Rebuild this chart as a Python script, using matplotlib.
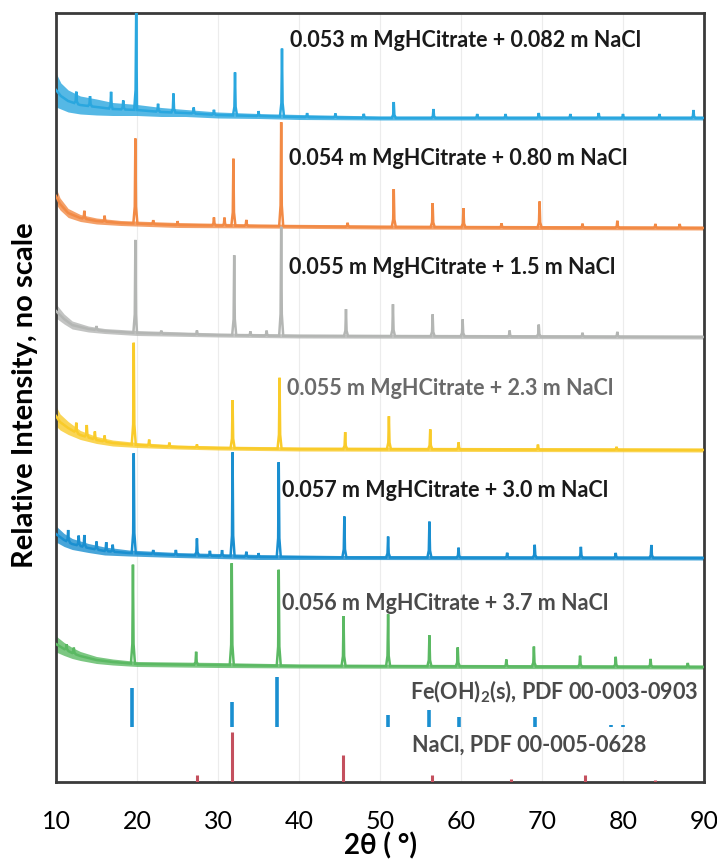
import numpy as np
import matplotlib
matplotlib.use("Agg")
import matplotlib.pyplot as plt

plt.rcParams['font.family'] = ['Lato', 'DejaVu Sans']
plt.rcParams['mathtext.fontset'] = 'custom'
plt.rcParams['mathtext.rm'] = 'Lato'
plt.rcParams['mathtext.bf'] = 'Lato:bold'

# ---------------- data (arbitrary intensity units, stacked) ----------------
labels = [
    "0.053 m MgHCitrate + 0.082 m NaCl",
    "0.054 m MgHCitrate + 0.80 m NaCl",
    "0.055 m MgHCitrate + 1.5 m NaCl",
    "0.055 m MgHCitrate + 2.3 m NaCl",
    "0.057 m MgHCitrate + 3.0 m NaCl",
    "0.056 m MgHCitrate + 3.7 m NaCl",
]
offsets = [664, 554, 445, 332, 224, 115]

# background level (above each baseline) and noise-band thickness read at a few angles
bg1_x = [10, 10.6, 11.5, 13, 15, 17, 20, 23, 26, 30, 35, 40, 50, 90]
bg1_y = [28, 22, 17, 13, 11, 9, 8, 6, 5, 3, 2, 1, 0, 0]
bg1_w = [34, 26, 22, 18, 16, 13, 11, 9, 7, 6, 5, 5, 4, 4]
bg2_x = [10, 10.5, 11.5, 13, 15, 18, 25, 35, 50, 90]
bg2_y = [32, 24, 15, 10, 7, 5, 3, 2, 1, 0]
bg2_w = [16, 12, 9, 7, 6, 5, 5, 4, 4, 4]
bg3_x = [10, 11, 12, 14, 16, 20, 30, 40, 90]
bg3_y = [26, 18, 12, 8, 6, 4, 2, 1, 0]
bg3_w = [14, 10, 8, 6, 5, 5, 4, 4, 4]
bg4_x = [10, 10.5, 11.5, 13, 15, 17, 20, 25, 30, 40, 90]
bg4_y = [34, 28, 22, 15, 10, 7, 5, 3, 2, 1, 0]
bg4_w = [20, 16, 13, 9, 7, 6, 5, 4, 4, 4, 4]
bg5_x = [10, 11, 12, 14, 16, 19, 25, 35, 45, 90]
bg5_y = [24, 18, 14, 10, 7, 5, 3, 1, 0.5, 0]
bg5_w = [16, 13, 11, 9, 8, 6, 5, 5, 4, 4]
bg6_x = [10, 11, 12, 13, 15, 17, 20, 30, 40, 90]
bg6_y = [23, 18, 14, 11, 7, 5, 3, 2, 1, 0]
bg6_w = [16, 13, 11, 9, 7, 6, 5, 5, 4, 4]

# peaks: 2theta positions and heights above background
pk1_x = [12.5, 14.2, 16.8, 18.3, 19.9, 22.6, 24.5, 27.0, 29.5, 32.1, 35.0, 37.9, 41.0,
         44.5, 48.0, 51.7, 56.6, 62.0, 65.5, 69.6, 73.5, 77.0, 80.0, 84.5, 88.7]
pk1_h = [12, 10, 17, 9, 100, 8, 19, 6, 5, 43, 5, 68, 4,
         4, 4, 16, 9, 4, 4, 5, 4, 5, 4, 4, 8]
pk2_x = [13.5, 16.0, 19.8, 22.0, 25.0, 29.5, 30.8, 31.9, 33.5, 37.8, 46.0, 51.7,
         56.5, 60.3, 65.0, 69.7, 75.0, 79.3, 84.0, 87.0]
pk2_h = [8, 6, 85, 4, 4, 8, 8, 67, 6, 104, 4, 38,
         24, 19, 4, 26, 4, 7, 4, 4]
pk3_x = [15.0, 19.8, 23.0, 27.4, 32.0, 34.0, 36.0, 37.8, 45.8, 51.6, 56.5, 60.2,
         66.0, 69.6, 75.0, 79.3]
pk3_h = [4, 93, 3, 4, 80, 4, 5, 109, 27, 32, 22, 17,
         6, 12, 4, 5]
pk4_x = [12.5, 13.8, 14.8, 16.0, 19.6, 21.5, 24.0, 27.4, 31.8, 37.6, 45.7, 51.1,
         56.2, 59.7, 69.5, 79.2]
pk4_h = [10, 12, 8, 6, 102, 6, 4, 3, 48, 71, 17, 33,
         20, 7, 5, 3]
pk5_x = [11.5, 12.8, 13.5, 15.0, 16.2, 17.0, 19.6, 22.0, 24.8, 27.4, 29.0, 30.5,
         31.8, 33.5, 35.0, 37.5, 45.6, 51.0, 56.1, 59.7, 65.7, 69.1, 74.8, 79.1, 83.5]
pk5_h = [12, 10, 12, 8, 9, 7, 100, 4, 5, 17, 5, 6,
         104, 5, 4, 95, 41, 21, 36, 10, 5, 13, 11, 5, 13]
pk6_x = [11.3, 12.2, 19.5, 27.3, 31.7, 37.5, 45.5, 51.0, 56.1, 59.6, 65.6, 69.0,
         74.7, 79.1, 83.4, 88.0]
pk6_h = [6, 6, 99, 13, 102, 96, 50, 52, 31, 19, 7, 20,
         11, 10, 8, 4]

bg_x = [bg1_x, bg2_x, bg3_x, bg4_x, bg5_x, bg6_x]
bg_y = [bg1_y, bg2_y, bg3_y, bg4_y, bg5_y, bg6_y]
bg_w = [bg1_w, bg2_w, bg3_w, bg4_w, bg5_w, bg6_w]
pk_x = [pk1_x, pk2_x, pk3_x, pk4_x, pk5_x, pk6_x]
pk_h = [pk1_h, pk2_h, pk3_h, pk4_h, pk5_h, pk6_h]

# reference stick patterns
feoh2_offset = 55
feoh2_x = [19.4, 31.7, 37.3, 51.0, 56.0, 59.7, 69.1, 78.5, 80.0]
feoh2_h = [39, 25, 50, 12, 17, 10, 10, 2, 2]
nacl_x = [27.4, 31.7, 45.4, 56.4, 66.2, 75.3, 84.0]
nacl_h = [7, 50, 27, 7, 3, 7, 2]

ref_labels = [r"Fe(OH)$_\mathbf{2}$(s), PDF 00-003-0903", "NaCl, PDF 00-005-0628"]

xticks = [10, 20, 30, 40, 50, 60, 70, 80, 90]

# ---------------- styling ----------------
colors = ["#2AA7DF", "#F28A45", "#B4B6B4", "#F9CB2A", "#1A8FD0", "#5BB963"]
label_colors = ["#1a1a1a", "#1a1a1a", "#1a1a1a", "#6a6a6a", "#1a1a1a", "#4a4a4a"]
label_pos = [(38.9, 742), (38.8, 624), (38.8, 515), (38.5, 394), (37.9, 292), (37.9, 179)]
ref_label_pos = [(53.7, 90), (54.0, 37)]
feoh2_color = "#1A8FD0"
nacl_color = "#C4505E"


def build_trace(bx, by, px, ph, hw=0.25):
    xs = list(bx)
    ys = list(by)
    for p, h in zip(px, ph):
        for dx, f in [(-hw, 0.0), (-hw * 0.3, 0.2), (0.0, 1.0), (hw * 0.3, 0.2), (hw, 0.0)]:
            xs.append(p + dx)
            ys.append(np.interp(p + dx, bx, by) + f * h)
    order = np.argsort(xs, kind="stable")
    return np.asarray(xs)[order], np.asarray(ys)[order]


fig = plt.figure(figsize=(7.17, 8.63), dpi=100)
ax = fig.add_axes([56 / 717, 1 - 782 / 863, (704 - 56) / 717, (782 - 13) / 863])

for i in range(6):
    bx = np.asarray(bg_x[i], float)
    by = np.asarray(bg_y[i], float) + offsets[i]
    bw = np.asarray(bg_w[i], float)
    ax.fill_between(bx, by - bw / 2, by + bw / 2, color=colors[i], alpha=0.8, lw=0, zorder=2)
    xs, ys = build_trace(bg_x[i], bg_y[i], pk_x[i], pk_h[i])
    ax.plot(xs, ys + offsets[i], color=colors[i], lw=1.8, solid_joinstyle="miter", zorder=3)
    ax.text(label_pos[i][0], label_pos[i][1], labels[i], fontsize=15.5, fontweight="bold",
            color=label_colors[i], va="center", ha="left", zorder=5)

ax.vlines(feoh2_x, feoh2_offset, np.asarray(feoh2_h) + feoh2_offset, color=feoh2_color, lw=2.6, zorder=3)
ax.vlines(nacl_x, 0, nacl_h, color=nacl_color, lw=2.2, zorder=3)
for (tx, ty), t in zip(ref_label_pos, ref_labels):
    ax.text(tx, ty, t, fontsize=15.6, fontweight="bold", color="#4a4a4a", va="center", ha="left", zorder=5)

ax.set_xlim(10, 90)
ax.set_ylim(0, 769)
ax.set_xticks(xticks)
ax.set_xticklabels([str(t) for t in xticks], fontsize=18)
ax.set_yticks([])
ax.tick_params(axis="x", length=0, pad=20)
ax.grid(axis="x", color="#ececec", lw=0.8, zorder=0)
for s in ax.spines.values():
    s.set_color("#3a3a3a")
    s.set_linewidth(2.0)

ax.set_xlabel("2θ ( °)", fontsize=20, fontweight="bold", labelpad=0)
fig.text(25 / 717, 1 - 395 / 863, "Relative Intensity, no scale", rotation=90, fontsize=21,
         fontweight="bold", va="center", ha="center")

fig.savefig("out.png", dpi=100, facecolor="white")
